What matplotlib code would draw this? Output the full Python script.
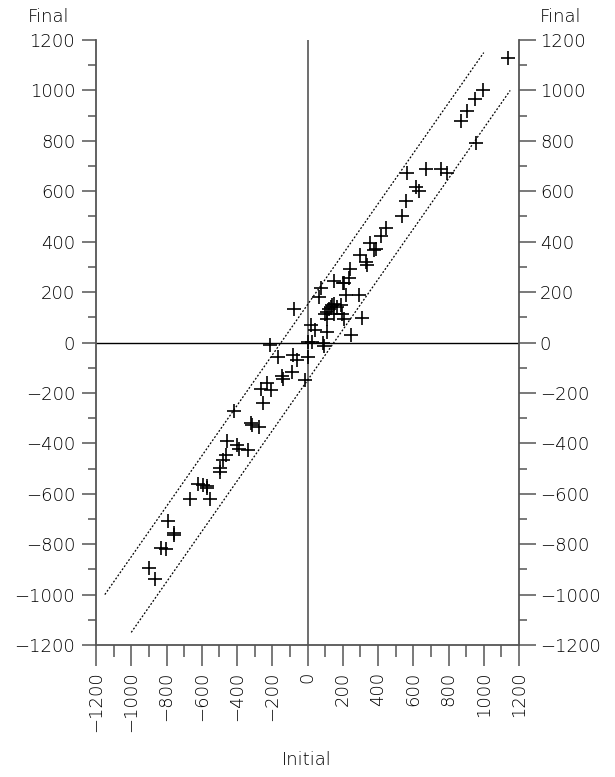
import numpy as np
import matplotlib.pyplot as plt
from matplotlib.ticker import MultipleLocator

plt.rcParams['font.family'] = ['DejaVu Sans']
plt.rcParams['font.weight'] = 'light'

# ---------------- Data ----------------
initial = [1138, 993, 949, 907, 873, 955,
           670, 756, 794, 566, 614, 633, 557, 534,
           443, 415, 354, 386, 377, 297, 330, 339,
           241, 235, 152, 200, 207, 78, 68, 216, 290,
           150, 140, 131, 121, 169, 188, 112, 102, 150, 197, 207, 112, 309,
           -76, 20, 40, 110, 244, 3, 27, 86, 93,
           -212, -165, -83, -59, 0, -87, -144, -140, -15, -265, -232, -205,
           -252, -419, -320, -314, -276, -455, -398, -390, -336, -463, -477,
           -498, -498, -623, -593, -568, -572, -667, -556,
           -794, -760, -756, -831, -801, -901, -864]
final = [1130, 1000, 964, 918, 878, 791,
         690, 690, 672, 673, 616, 600, 561, 503,
         455, 423, 394, 372, 365, 349, 319, 306,
         292, 257, 243, 237, 235, 215, 180, 189, 189,
         153, 147, 140, 134, 140, 147, 120, 114, 114, 114, 94, 94, 96,
         131, 69, 48, 41, 31, 1, 1, 0, -15,
         -10, -58, -50, -70, -59, -118, -134, -146, -147, -185, -162, -188,
         -239, -270, -320, -329, -336, -392, -405, -422, -428, -448, -465,
         -499, -515, -560, -567, -569, -577, -622, -622,
         -709, -757, -762, -815, -821, -896, -938]

# dotted band: final = initial +/- 150
band_offset = 150
upper_x = [-1150, 1000]
lower_x = [-1000, 1150]

ticks = np.arange(-1200, 1201, 200)
tick_labels = [str(t).replace('-', '\u2212') for t in ticks]

# ---------------- Plot ----------------
fig = plt.figure(figsize=(6.15, 7.77), dpi=100)
ax = fig.add_axes([96/615, 1 - 645/777, 423/615, 605/777])
spine_col = '#555555'

ax.set_xlim(-1200, 1200)
ax.set_ylim(-1200, 1200)

ax.axhline(0, color='black', lw=1.0, zorder=1)
ax.axvline(0, color=spine_col, lw=1.2, zorder=1)

ux = np.array(upper_x)
lx = np.array(lower_x)
ax.plot(ux, ux + band_offset, color='black', ls=(0, (1.5, 1.5)), lw=0.9)
ax.plot(lx, lx - band_offset, color='black', ls=(0, (1.5, 1.5)), lw=0.9)

ax.scatter(initial, final, marker='+', s=90, color='black', linewidths=1.2, zorder=3)

ax.spines['top'].set_visible(False)
for sp in ['left', 'right', 'bottom']:
    ax.spines[sp].set_color(spine_col)
    ax.spines[sp].set_linewidth(1.3)

ax.set_xticks(ticks)
ax.set_yticks(ticks)
ax.xaxis.set_minor_locator(MultipleLocator(100))
ax.yaxis.set_minor_locator(MultipleLocator(100))
ax.set_xticklabels(tick_labels, rotation=90)
ax.set_yticklabels(tick_labels)

ax.tick_params(axis='x', which='major', length=15, width=1.1, color=spine_col,
               labelsize=13, pad=4)
ax.tick_params(axis='x', which='minor', length=8.5, width=1.1, color=spine_col)
ax.tick_params(axis='y', which='major', length=10, width=1.1, color=spine_col,
               labelsize=13, pad=5)
ax.tick_params(axis='y', which='minor', length=6, width=1.1, color=spine_col)
for lbl in ax.get_xticklabels():
    lbl.set_va('top')

# right axis with its own ticks
ax2 = ax.twinx()
ax2.set_ylim(-1200, 1200)
ax2.set_yticks(ticks)
ax2.set_yticklabels(tick_labels)
ax2.yaxis.set_minor_locator(MultipleLocator(100))
ax2.tick_params(axis='y', which='major', length=12, width=1.1, color=spine_col,
                labelsize=13, pad=3)
ax2.tick_params(axis='y', which='minor', length=6, width=1.1, color=spine_col)
for sp in ax2.spines.values():
    sp.set_visible(False)

fig.text(28/615, 1 - 17/777, 'Final', ha='left', va='center', fontsize=13)
fig.text(540/615, 1 - 17/777, 'Final', ha='left', va='center', fontsize=13)
fig.text(307/615, 1 - 760/777, 'Initial', ha='center', va='center', fontsize=13)

fig.savefig('out.png', dpi=100)
